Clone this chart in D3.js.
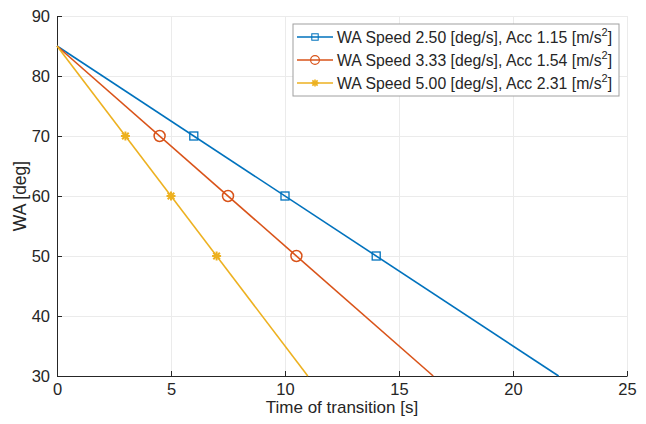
<!DOCTYPE html>
<html>
<head>
<meta charset="utf-8">
<script src="https://cdn.jsdelivr.net/npm/d3@7"></script>
<style>
  body { margin: 0; background: #fff; }
  svg { font-family: "Liberation Sans", Arial, sans-serif; }
  .grid line { stroke: #ebebeb; stroke-width: 1; }
  .grid .domain { display: none; }
  .axis text { fill: #262626; font-size: 16.5px; }
  .axis line, .axis path { stroke: #262626; }
</style>
</head>
<body>
<svg width="646" height="424"></svg>
<script>
// data
var speeds = ["2.50", "3.33", "5.00"];
var accs = ["1.15", "1.54", "2.31"];
var blueLine = [[0, 85], [22, 30]];
var orangeLine = [[0, 85], [16.5, 30]];
var yellowLine = [[0, 85], [11, 30]];
var blueMarks = [[6, 70], [10, 60], [14, 50]];
var orangeMarks = [[4.5, 70], [7.5, 60], [10.5, 50]];
var yellowMarks = [[3, 70], [5, 60], [7, 50]];
var xTicks = [0, 5, 10, 15, 20, 25];
var yTicks = [30, 40, 50, 60, 70, 80, 90];

var series = [
  { line: blueLine, marks: blueMarks, color: "#0072BD", marker: "square" },
  { line: orangeLine, marks: orangeMarks, color: "#D95319", marker: "circle" },
  { line: yellowLine, marks: yellowMarks, color: "#EDB120", marker: "star" }
];

var svg = d3.select("svg");
var margin = { top: 16, right: 19, bottom: 48, left: 57 };
var width = 646, height = 424;

var xScale = d3.scaleLinear().domain([0, 25]).range([margin.left, width - margin.right]);
var yScale = d3.scaleLinear().domain([30, 90]).range([height - margin.bottom, margin.top]);

// gridlines
svg.append("g").attr("class", "grid")
  .attr("transform", `translate(0,${height - margin.bottom})`)
  .call(d3.axisBottom(xScale).tickValues(xTicks).tickSize(-(height - margin.bottom - margin.top)).tickFormat(""));
svg.append("g").attr("class", "grid")
  .attr("transform", `translate(${margin.left},0)`)
  .call(d3.axisLeft(yScale).tickValues(yTicks).tickSize(-(width - margin.right - margin.left)).tickFormat(""));

// axes
svg.append("g").attr("class", "axis")
  .attr("transform", `translate(0,${height - margin.bottom})`)
  .call(d3.axisBottom(xScale).tickValues(xTicks).tickSizeInner(-5).tickSizeOuter(0))
  .call(g => g.selectAll("text").attr("y", 19).attr("dy", 0));
svg.append("g").attr("class", "axis")
  .attr("transform", `translate(${margin.left},0)`)
  .call(d3.axisLeft(yScale).tickValues(yTicks).tickSizeInner(-5).tickSizeOuter(0).tickPadding(7));

var line = d3.line().x(d => xScale(d[0])).y(d => yScale(d[1]));

function drawMarker(g, type, color) {
  if (type == "square") {
    g.append("rect").attr("x", -4).attr("y", -4).attr("width", 8).attr("height", 8)
      .attr("fill", "none").attr("stroke", color).attr("stroke-width", 1.3);
  } else if (type == "circle") {
    g.append("circle").attr("r", 5.5)
      .attr("fill", "none").attr("stroke", color).attr("stroke-width", 1.5);
  } else {
    [[-4.5, 0, 4.5, 0], [0, -4.5, 0, 4.5], [-3.3, -3.3, 3.3, 3.3], [-3.3, 3.3, 3.3, -3.3]].forEach(function (s) {
      g.append("line").attr("x1", s[0]).attr("y1", s[1]).attr("x2", s[2]).attr("y2", s[3])
        .attr("stroke", color).attr("stroke-width", 2);
    });
  }
}

series.forEach(function (s) {
  svg.append("path").datum(s.line)
    .attr("d", line).attr("fill", "none")
    .attr("stroke", s.color).attr("stroke-width", 1.6);
  s.marks.forEach(function (m) {
    var g = svg.append("g").attr("transform", `translate(${xScale(m[0])},${yScale(m[1])})`);
    drawMarker(g, s.marker, s.color);
  });
});

// axis labels
svg.append("text")
  .attr("x", (margin.left + width - margin.right) / 2).attr("y", 413)
  .attr("text-anchor", "middle").attr("fill", "#262626").attr("font-size", "17px")
  .text("Time of transition [s]");
svg.append("text")
  .attr("transform", `translate(26,${(margin.top + height - margin.bottom) / 2}) rotate(-90)`)
  .attr("text-anchor", "middle").attr("fill", "#262626").attr("font-size", "17.5px")
  .text("WA [deg]");

// legend
var legend = svg.append("g").attr("transform", "translate(293,24)");
legend.append("rect").attr("width", 326).attr("height", 72)
  .attr("fill", "#fff").attr("stroke", "#a0a0a0").attr("stroke-width", 1);
series.forEach(function (s, i) {
  var y = 13 + i * 23;
  legend.append("line").attr("x1", 4).attr("x2", 40).attr("y1", y).attr("y2", y)
    .attr("stroke", s.color).attr("stroke-width", 1.6);
  var g = legend.append("g");
  drawMarker(g, s.marker, s.color);
  g.attr("transform", `translate(22,${y}) scale(0.8)`);
  var t = legend.append("text").attr("x", 44).attr("y", y + 5.5)
    .attr("fill", "#262626").attr("font-size", "15.8px");
  t.append("tspan").text(`WA Speed ${speeds[i]} [deg/s], Acc ${accs[i]} [m/s`);
  t.append("tspan").attr("dy", -7).attr("font-size", "11px").text("2");
  t.append("tspan").attr("dy", 7).text("]");
});
</script>
</body>
</html>
